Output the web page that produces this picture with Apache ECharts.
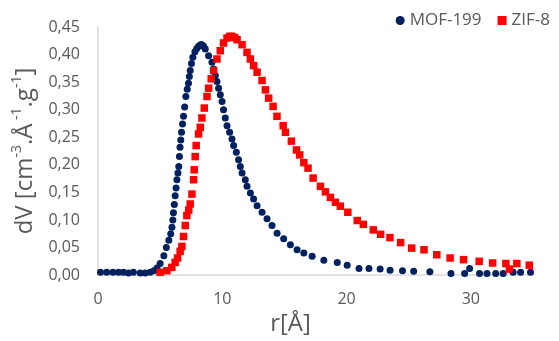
<!DOCTYPE html>
<html>
<head>
<meta charset="utf-8">
<script src="https://cdn.jsdelivr.net/npm/echarts@6/dist/echarts.min.js"></script>
<style>
  html, body { margin: 0; padding: 0; background: #fff; }
  #chart { width: 559px; height: 341px; }
</style>
</head>
<body>
<div id="chart"></div>
<script>
// pore radius r [Å] and dV values
var mofR = [0.2, 0.7, 1.2, 1.65, 2.05, 2.45, 2.85, 3.4, 3.8, 4.2, 4.5, 4.75, 5.0, 5.3, 5.5, 5.7, 5.85, 5.95, 6.02, 6.07,
  6.14, 6.21, 6.28, 6.35, 6.43, 6.5, 6.55, 6.6, 6.66, 6.72, 6.8, 6.88, 6.97, 7.07, 7.18, 7.28, 7.35, 7.42, 7.52, 7.63,
  7.8, 7.95, 8.09, 8.25, 8.36, 8.5, 8.63, 8.9, 9.17, 9.3, 9.44, 9.57, 9.7, 9.84, 9.98, 10.1, 10.24, 10.38, 10.59, 10.78,
  10.91, 11.13, 11.31, 11.45, 11.59, 11.85, 11.99, 12.26, 12.52, 12.8, 13.2, 13.6, 14.0, 14.41, 14.94, 15.48, 16.02, 16.56, 17.23, 18.17,
  19.25, 20.05, 21.0, 21.8, 22.7, 23.5, 24.5, 25.4, 26.7, 28.4, 29.5, 29.9, 30.7, 31.3, 32.0, 32.6, 33.4, 34.0, 34.8];
var mofDV = [0.005, 0.005, 0.005, 0.005, 0.005, 0.004, 0.005, 0.004, 0.004, 0.005, 0.008, 0.013, 0.021, 0.035, 0.050, 0.063, 0.075, 0.087, 0.100, 0.113,
  0.128, 0.144, 0.158, 0.173, 0.185, 0.197, 0.215, 0.232, 0.245, 0.259, 0.274, 0.288, 0.305, 0.324, 0.337, 0.348, 0.360, 0.371, 0.384, 0.395,
  0.405, 0.411, 0.415, 0.418, 0.418, 0.415, 0.410, 0.398, 0.386, 0.374, 0.362, 0.351, 0.339, 0.327, 0.315, 0.300, 0.285, 0.271, 0.259, 0.247,
  0.235, 0.223, 0.209, 0.197, 0.185, 0.173, 0.161, 0.149, 0.138, 0.126, 0.114, 0.102, 0.090, 0.076, 0.066, 0.055, 0.046, 0.040, 0.034, 0.027,
  0.023, 0.018, 0.012, 0.012, 0.011, 0.009, 0.008, 0.007, 0.006, 0.003, 0.003, 0.012, 0.003, 0.003, 0.003, 0.003, 0.005, 0.005, 0.005];

var zifR = [5.0, 5.54, 5.94, 6.21, 6.4, 6.61, 6.75, 6.88, 7.02, 7.15, 7.3, 7.42, 7.56, 7.69, 7.74, 7.82, 7.9, 8.09, 8.23, 8.36,
  8.55, 8.77, 8.9, 9.11, 9.3, 9.57, 9.84, 10.1, 10.38, 10.6, 10.78, 11.0, 11.19, 11.59, 11.99, 12.26, 12.52, 12.8, 13.2, 13.47,
  13.73, 14.09, 14.4, 14.9, 15.08, 15.56, 15.97, 16.23, 16.56, 16.9, 17.31, 17.9, 18.3, 18.7, 19.1, 19.5, 20.1, 20.86, 21.35, 22.15,
  22.74, 23.49, 24.35, 25.24, 26.23, 27.26, 28.33, 29.41, 30.67, 31.75, 32.82, 33.1, 33.7, 34.7];
var zifDV = [0.005, 0.008, 0.014, 0.023, 0.031, 0.043, 0.052, 0.070, 0.090, 0.108, 0.118, 0.129, 0.147, 0.173, 0.191, 0.215, 0.235, 0.256, 0.268, 0.285,
  0.303, 0.324, 0.339, 0.356, 0.371, 0.392, 0.407, 0.421, 0.430, 0.433, 0.433, 0.431, 0.427, 0.418, 0.404, 0.392, 0.380, 0.368, 0.353, 0.336,
  0.321, 0.306, 0.288, 0.271, 0.259, 0.243, 0.227, 0.218, 0.204, 0.194, 0.176, 0.161, 0.151, 0.141, 0.132, 0.125, 0.114, 0.099, 0.092, 0.082,
  0.074, 0.068, 0.059, 0.049, 0.046, 0.037, 0.031, 0.028, 0.025, 0.022, 0.021, 0.011, 0.021, 0.018];

function pairs(xs, ys) {
  var out = [];
  for (var i = 0; i < xs.length; i++) out.push([xs[i], ys[i]]);
  return out;
}

var gray = '#595959';
var font = 'Open Sans';
var chart = echarts.init(document.getElementById('chart'));

chart.setOption({
  backgroundColor: '#fff',
  animation: false,
  textStyle: { fontFamily: font },
  grid: { left: 98, right: 26, top: 27, bottom: 60 },
  legend: {
    right: 4, top: 7,
    itemGap: 16,
    itemWidth: 9, itemHeight: 9,
    textStyle: { color: gray, fontSize: 17, fontFamily: font },
    data: [
      { name: 'MOF-199', icon: 'circle' },
      { name: 'ZIF-8', icon: 'rect' }
    ]
  },
  xAxis: {
    type: 'value',
    min: 0, max: 35, interval: 10,
    name: 'r[Å]',
    nameLocation: 'middle',
    nameGap: 36,
    nameTextStyle: { color: gray, fontSize: 24, padding: [0, 50, 0, 0] },
    axisLine: { show: true, lineStyle: { color: '#d9d9d9', width: 1.5 } },
    axisTick: { show: false },
    splitLine: { show: false },
    axisLabel: {
      color: gray, fontSize: 16, margin: 16,
      formatter: function (v) { return v % 10 === 0 ? String(v) : ''; }
    }
  },
  yAxis: {
    type: 'value',
    min: 0, max: 0.45, interval: 0.05,
    name: '{t|dV [cm}{s|-3}{t|.Å}{s| -1}{t|.g}{s|-1}{t|]}',
    nameLocation: 'middle',
    nameGap: 56,
    nameTextStyle: {
      color: gray,
      rich: {
        t: { fontSize: 24, color: gray, fontFamily: font },
        s: { fontSize: 14, color: gray, fontFamily: font, verticalAlign: 'top', lineHeight: 30 }
      }
    },
    axisLine: { show: true, lineStyle: { color: '#d9d9d9', width: 1.5 } },
    axisTick: { show: false },
    splitLine: { show: false },
    axisLabel: {
      color: gray, fontSize: 16, margin: 18,
      formatter: function (v) { return v.toFixed(2).replace('.', ','); }
    }
  },
  series: [
    {
      name: 'MOF-199',
      type: 'scatter',
      symbol: 'circle',
      symbolSize: 7,
      itemStyle: { color: '#002060', opacity: 1 },
      data: pairs(mofR, mofDV)
    },
    {
      name: 'ZIF-8',
      type: 'scatter',
      symbol: 'rect',
      symbolSize: 7.5,
      itemStyle: { color: '#ff0000', opacity: 1 },
      data: pairs(zifR, zifDV)
    }
  ]
});
</script>
</body>
</html>
